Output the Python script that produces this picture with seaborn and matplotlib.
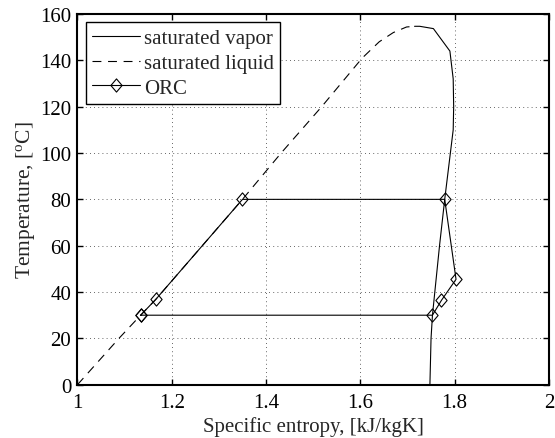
import numpy as np
import pandas as pd
import matplotlib
matplotlib.use("Agg")
import matplotlib.pyplot as plt
import seaborn as sns
from matplotlib.path import Path

# ---- data ----
liq_s = [1.000, 1.088, 1.134, 1.166, 1.350, 1.432, 1.518, 1.604, 1.640, 1.670, 1.698, 1.715]
liq_T = [0.0, 20.0, 30.0, 36.8, 80.0, 100.0, 120.0, 141.0, 148.0, 152.0, 154.4, 154.7]

vap_s = [1.715, 1.726, 1.755, 1.790, 1.797, 1.798, 1.797, 1.791, 1.779, 1.768, 1.758, 1.753, 1.750, 1.7476]
vap_T = [154.7, 154.7, 153.7, 144.0, 132.0, 120.0, 110.0, 100.0, 80.0, 60.0, 40.0, 30.0, 20.0, 0.0]

orc_s = [1.134, 1.166, 1.350, 1.779, 1.803, 1.772, 1.753, 1.134]
orc_T = [30.0, 36.8, 80.0, 80.0, 45.5, 36.4, 30.0, 30.0]

xticks = [1.0, 1.2, 1.4, 1.6, 1.8, 2.0]
xtick_labels = ["1", "1.2", "1.4", "1.6", "1.8", "2"]
yticks = [0, 20, 40, 60, 80, 100, 120, 140, 160]
ytick_labels = ["0", "20", "40", "60", "80", "100", "120", "140", "160"]

sns.set_theme(style="ticks")
plt.rcParams["font.family"] = ["Liberation Serif", "DejaVu Serif"]
plt.rcParams["mathtext.fontset"] = "custom"
plt.rcParams["mathtext.rm"] = "Liberation Serif"
plt.rcParams["mathtext.it"] = "Liberation Serif:italic"

FS = 15

fig = plt.figure(figsize=(5.55, 4.39), dpi=100)
ax = fig.add_axes([0.1396, 0.1214, 0.8494, 0.8444])

df_v = pd.DataFrame({"s": vap_s, "T": vap_T})
df_l = pd.DataFrame({"s": liq_s, "T": liq_T})
df_o = pd.DataFrame({"s": orc_s, "T": orc_T})

diamond = Path([(0, 1), (0.85, 0), (0, -1), (-0.85, 0), (0, 1)],
               [Path.MOVETO, Path.LINETO, Path.LINETO, Path.LINETO, Path.CLOSEPOLY])

sns.lineplot(data=df_v, x="s", y="T", sort=False, estimator=None, ax=ax,
             color="black", linewidth=0.8, label="saturated vapor")
sns.lineplot(data=df_l, x="s", y="T", sort=False, estimator=None, ax=ax,
             color="black", linewidth=0.8, linestyle=(0, (8, 6)), label="saturated liquid")
sns.lineplot(data=df_o, x="s", y="T", sort=False, estimator=None, ax=ax,
             color="black", linewidth=0.8, marker=diamond, markersize=9.5,
             markerfacecolor="none", markeredgecolor="black", markeredgewidth=0.8,
             label="ORC")

ax.set_xlim(1, 2)
ax.set_ylim(0, 160)
ax.set_xticks(xticks)
ax.set_xticklabels(xtick_labels)
ax.set_yticks(yticks)
ax.set_yticklabels(ytick_labels)
ax.tick_params(direction="in", top=True, right=True, labelsize=FS, length=4,
               width=1, colors="black")
ax.tick_params(axis="x", pad=6)
ax.tick_params(axis="y", pad=4.5)
for sp in ax.spines.values():
    sp.set_linewidth(1.5)
    sp.set_color("black")
ax.grid(True, color="black", linestyle=(0, (1, 4)), linewidth=0.6, alpha=0.8)

ax.set_xlabel("Specific entropy, [kJ/kgK]", fontsize=FS, labelpad=3)
ax.set_ylabel(r"Temperature, [$^{\mathrm{o}}$C]", fontsize=15.5, labelpad=2)

leg = ax.legend(loc="upper left", fontsize=FS, frameon=True, fancybox=False,
                framealpha=1, edgecolor="black", handlelength=2.3, handletextpad=0.2,
                borderaxespad=0.4, borderpad=0.3, labelspacing=0.25)
leg.get_frame().set_linewidth(1.0)

fig.savefig("out.png", dpi=100)
